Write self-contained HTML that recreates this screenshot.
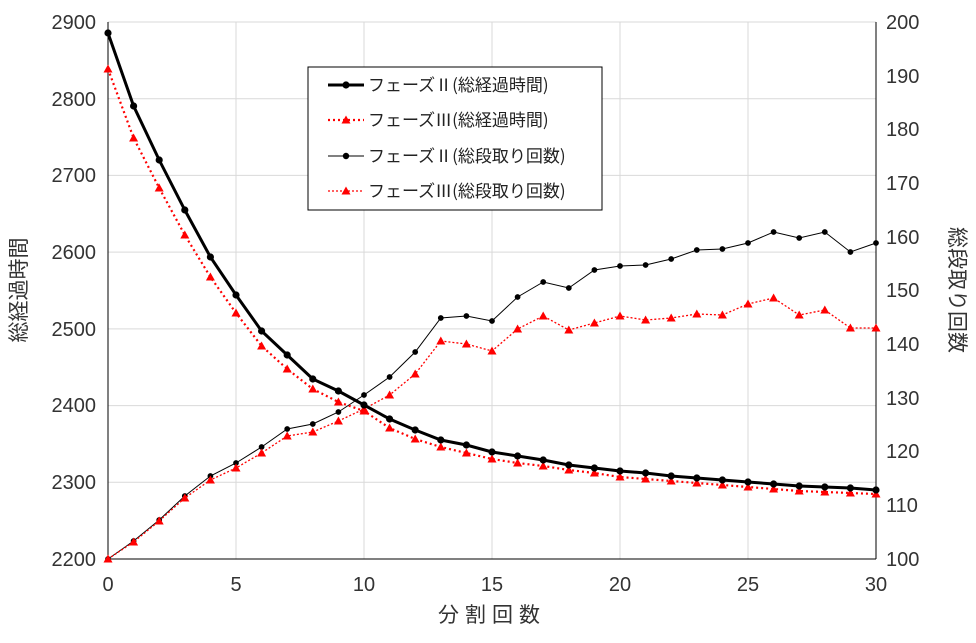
<!DOCTYPE html>
<html><head><meta charset="utf-8"><style>
body{margin:0;background:#fff}
svg text{font-family:"Liberation Sans","Noto Sans CJK JP",sans-serif;fill:#333}
svg text.j{font-family:"Noto Sans CJK JP",sans-serif;fill:#222}
</style></head><body>
<svg width="976" height="638" viewBox="0 0 976 638" xmlns="http://www.w3.org/2000/svg">
<defs>
<marker id="c" viewBox="-5 -5 10 10" markerWidth="10" markerHeight="10" markerUnits="userSpaceOnUse"><circle r="3.6" fill="#000"/></marker>
<marker id="cs" viewBox="-5 -5 10 10" markerWidth="9" markerHeight="9" markerUnits="userSpaceOnUse"><circle r="3.2" fill="#000"/></marker>
<marker id="t" viewBox="-5 -5 10 10" markerWidth="10" markerHeight="10" markerUnits="userSpaceOnUse"><polygon points="0,-4.5 4.5,3.5 -4.5,3.5" fill="#f00"/></marker>
</defs>
<g stroke="#d9d9d9" stroke-width="1">
<line x1="108" y1="22" x2="876" y2="22"/><line x1="108" y1="98.7" x2="876" y2="98.7"/><line x1="108" y1="175.4" x2="876" y2="175.4"/><line x1="108" y1="252.1" x2="876" y2="252.1"/><line x1="108" y1="328.9" x2="876" y2="328.9"/><line x1="108" y1="405.6" x2="876" y2="405.6"/><line x1="108" y1="482.3" x2="876" y2="482.3"/>
<line x1="236" y1="22" x2="236" y2="559"/><line x1="364" y1="22" x2="364" y2="559"/><line x1="492" y1="22" x2="492" y2="559"/><line x1="620" y1="22" x2="620" y2="559"/><line x1="748" y1="22" x2="748" y2="559"/>
</g>
<g stroke="#000" stroke-width="1"><line x1="108" y1="22" x2="108" y2="559"/><line x1="876" y1="22" x2="876" y2="559"/><line x1="108" y1="559" x2="876" y2="559"/></g>
<g font-size="20" text-anchor="end">
<text x="96" y="29">2900</text><text x="96" y="106">2800</text><text x="96" y="182">2700</text><text x="96" y="259">2600</text><text x="96" y="336">2500</text><text x="96" y="412">2400</text><text x="96" y="489">2300</text><text x="96" y="566">2200</text>
</g>
<g font-size="20" text-anchor="start">
<text x="886" y="29">200</text><text x="886" y="83">190</text><text x="886" y="136">180</text><text x="886" y="190">170</text><text x="886" y="244">160</text><text x="886" y="297">150</text><text x="886" y="351">140</text><text x="886" y="405">130</text><text x="886" y="458">120</text><text x="886" y="512">110</text><text x="886" y="566">100</text>
</g>
<g font-size="20" text-anchor="middle">
<text x="108" y="591">0</text><text x="236" y="591">5</text><text x="364" y="591">10</text><text x="492" y="591">15</text><text x="620" y="591">20</text><text x="748" y="591">25</text><text x="876" y="591">30</text>
<text x="492" y="622" font-size="21" letter-spacing="6">分割回数</text>
<text transform="translate(26,290) rotate(-90)" font-size="21">総経過時間</text>
<text transform="translate(950,290) rotate(90)" font-size="21">総段取り回数</text>
</g>
<polyline fill="none" stroke="#000" stroke-width="1" marker-start="url(#cs)" marker-mid="url(#cs)" marker-end="url(#cs)" points="108,559 133.6,541 159.2,520 184.8,496 210.4,476 236,463 261.6,447 287.2,429 312.8,424 338.4,412 364,395 389.6,377 415.2,352 440.8,318 466.4,316 492,321 517.6,297 543.2,282 568.8,288 594.4,270 620,266 645.6,265 671.2,259 696.8,250 722.4,249 748,243 773.6,232 799.2,238 824.8,232 850.4,252 876,243"/>
<polyline fill="none" stroke="#f00" stroke-width="1.3" stroke-dasharray="2,2" marker-start="url(#t)" marker-mid="url(#t)" marker-end="url(#t)" points="108,559 133.6,542 159.2,521 184.8,498 210.4,480 236,468 261.6,453 287.2,436 312.8,432 338.4,421 364,409 389.6,395 415.2,374 440.8,341 466.4,344 492,351 517.6,329 543.2,316 568.8,330 594.4,323 620,316 645.6,320 671.2,318 696.8,314 722.4,315 748,304 773.6,298 799.2,315 824.8,310 850.4,328 876,328"/>
<polyline fill="none" stroke="#f00" stroke-width="2.2" stroke-dasharray="2,3" marker-start="url(#t)" marker-mid="url(#t)" marker-end="url(#t)" points="108,69 133.6,138 159.2,188 184.8,235 210.4,277 236,313 261.6,346 287.2,369 312.8,389 338.4,402 364,411 389.6,428 415.2,439 440.8,447 466.4,453 492,459 517.6,463 543.2,466 568.8,470 594.4,473 620,477 645.6,479 671.2,481 696.8,483 722.4,485 748,487 773.6,489 799.2,491 824.8,492 850.4,493 876,494"/>
<polyline fill="none" stroke="#000" stroke-width="3" marker-start="url(#c)" marker-mid="url(#c)" marker-end="url(#c)" points="108,33 133.6,106 159.2,160 184.8,210 210.4,257 236,295 261.6,331 287.2,355 312.8,379 338.4,391 364,405 389.6,419 415.2,430 440.8,440 466.4,445 492,452 517.6,456 543.2,460 568.8,465 594.4,468 620,471 645.6,473 671.2,476 696.8,478 722.4,480 748,482 773.6,484 799.2,486 824.8,487 850.4,488 876,490"/>
<rect x="308" y="67" width="294" height="143" fill="#fff" stroke="#000" stroke-width="1"/>
<g font-size="17">
<line x1="328" y1="85" x2="364" y2="85" stroke="#000" stroke-width="3"/><circle cx="346" cy="85" r="3.6"/>
<text class="j" x="368" y="91">フェーズⅡ(総経過時間)</text>
<line x1="328" y1="120" x2="364" y2="120" stroke="#f00" stroke-width="2.2" stroke-dasharray="2,3"/><polygon points="346,115.5 350.5,123.5 341.5,123.5" fill="#f00"/>
<text class="j" x="368" y="126">フェーズⅢ(総経過時間)</text>
<line x1="328" y1="156" x2="364" y2="156" stroke="#000" stroke-width="1"/><circle cx="346" cy="156" r="3.2"/>
<text class="j" x="368" y="162">フェーズⅡ(総段取り回数)</text>
<line x1="328" y1="191" x2="364" y2="191" stroke="#f00" stroke-width="1.3" stroke-dasharray="2,2"/><polygon points="346,186.5 350.5,194.5 341.5,194.5" fill="#f00"/>
<text class="j" x="368" y="197">フェーズⅢ(総段取り回数)</text>
</g>
</svg>
</body></html>
